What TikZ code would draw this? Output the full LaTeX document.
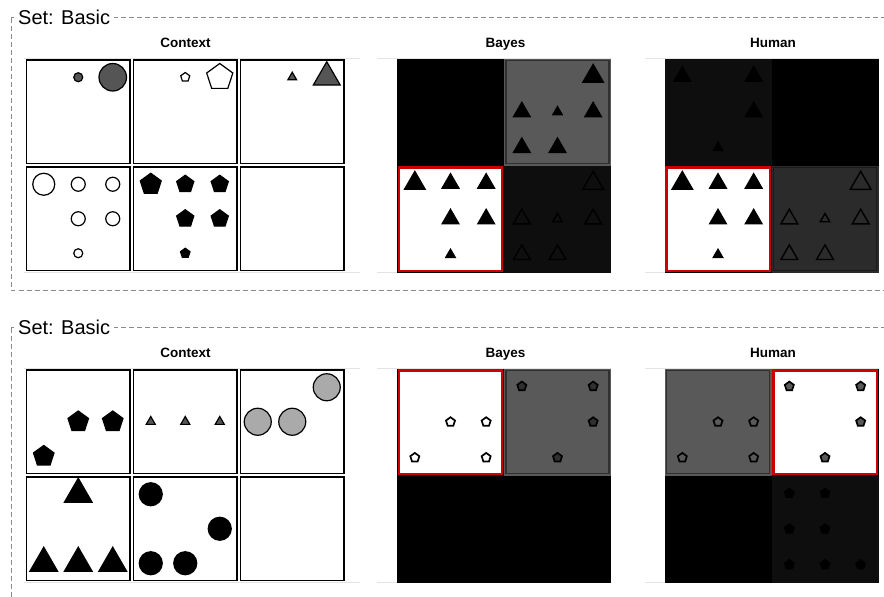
\documentclass[tikz,border=0pt]{standalone}
\usepackage{fontspec}
\setmainfont{Liberation Sans}
\usetikzlibrary{shapes.geometric}
\definecolor{Frame}{HTML}{8A8A8A}
\definecolor{Faint}{HTML}{E4E4E4}
\definecolor{MidGray}{HTML}{555555}
\definecolor{LightGray}{HTML}{AAAAAA}
\definecolor{CellGray}{HTML}{595959}
\definecolor{RimGray}{HTML}{303030}
\definecolor{CellDark}{HTML}{0E0E0E}
\definecolor{CellMid}{HTML}{2B2B2B}
\definecolor{RimMid}{HTML}{1A1A1A}
\definecolor{Pick}{HTML}{CC0000}

\tikzset{
  frame/.style={draw=Frame, line width=0.9pt, dash pattern=on 5pt off 3pt},
  settitle/.style={anchor=base west, fill=white, inner xsep=4pt, inner ysep=1pt,
    font=\fontsize{20}{24}\selectfont},
  colhead/.style={anchor=base, font=\bfseries\fontsize{13.5}{16}\selectfont},
  panel/.style={draw=black, line width=1.4pt},
  faint/.style={draw=Faint, line width=0.8pt},
  tri/.style={regular polygon, regular polygon sides=3, inner sep=0pt},
  pent/.style={regular polygon, regular polygon sides=5, inner sep=0pt},
  dot/.style={circle, inner sep=0pt},
  filled/.style={draw=black, line width=1.2pt, fill=#1},
  hollow/.style={draw=#1, line width=1.4pt, fill=none},
  cellrim/.style={draw=#1, line width=1.3pt},
  picked/.style={draw=Pick, line width=2.2pt},
}

% marks in a cell: name, left, top, cell size, look, list of col/row/size (col, row in sixths)
\newcommand{\putmarks}[6]{%
  \foreach \c/\r/\s in {#6}
    \node[#5, minimum size=\s] (#1-\c\r) at ({#2+#4*\c/6},{#3+#4*\r/6}) {};%
}
% one cell of a result grid: left, top, fill, rim colour
\newcommand{\gridcell}[4]{%
  \fill[#3] (#1,#2) rectangle ++(107,107);
  \draw[cellrim=#4] (#1+2,#2+2) rectangle ++(103,103);%
}
% the picked cell of a result grid
\newcommand{\pickcell}[2]{%
  \fill[white] (#1,#2) rectangle ++(107,107);
  \draw[black, line width=0.8pt] (#1+0.4,#2+0.4) rectangle ++(106.2,106.2);
  \draw[picked] (#1+1.9,#2+1.9) rectangle ++(103.2,103.2);%
}
% frame, headings and the empty context panels of one set
\newcommand{\setframe}[1]{%
  \draw[frame] (11,17.5) rectangle (900,290);
  \node[settitle] (#1-title) at (14,24) {Set: Basic};
  \node[colhead] (#1-context) at (185.5,47.5) {Context};
  \node[colhead] (#1-bayes) at (505.5,47.5) {Bayes};
  \node[colhead] (#1-human) at (773,47.5) {Human};
  \foreach \lx/\rx in {24/360, 377/611, 644.5/878.5}{
    \draw[faint] (\lx,58) -- (\rx,58);
    \draw[faint] (\lx,272.5) -- (\rx,272.5);
  }
  \foreach \c in {0,1,2}
    \foreach \r in {0,1}
      \draw[panel] (26.5+107*\c,60+107*\r) rectangle ++(103.5,103.5);%
}

\begin{document}
\begin{tikzpicture}[x=1pt, y=-1pt]
  \clip (0,0) rectangle (884,597);
  \fill[white] (0,0) rectangle (884,597);

  % first set
  \begin{scope}
    \setframe{a}
    \putmarks{a-c1}{26.5}{60}{103.5}{dot, filled=MidGray}{3/1/9, 5/1/27.5}
    \putmarks{a-c2}{133.5}{60}{103.5}{pent, filled=white}{3/1/9.5, 5/1/27.5}
    \putmarks{a-c3}{240.5}{60}{103.5}{tri, filled=MidGray}{3/1/10, 5/1/31}
    \putmarks{a-c4}{26.5}{167}{103.5}{dot, filled=white}{1/1/22, 3/1/14, 5/1/14, 3/3/14, 5/3/14, 3/5/9}
    \putmarks{a-c5}{133.5}{167}{103.5}{pent, filled=black}{1/1/22, 3/1/18, 5/1/18, 3/3/18, 5/3/18, 3/5/10}
    % Bayes
    \gridcell{397}{58.5}{black}{black}
    \gridcell{504}{58.5}{CellGray}{RimGray}
    \pickcell{397}{165.5}
    \gridcell{504}{165.5}{CellDark}{CellDark}
    \putmarks{a-b2}{504}{58.5}{107}{tri, filled=black}{5/1/24, 1/3/19.5, 3/3/11, 5/3/19.5, 1/5/19.5, 3/5/19.5}
    \putmarks{a-b3}{397}{165.5}{107}{tri, filled=black}{1/1/24, 3/1/19.5, 5/1/19.5, 3/3/19.5, 5/3/19.5, 3/5/11}
    \putmarks{a-b4}{504}{165.5}{107}{tri, hollow=black}{5/1/24, 1/3/19.5, 3/3/11, 5/3/19.5, 1/5/19.5, 3/5/19.5}
    % Human
    \gridcell{664.5}{58.5}{CellDark}{CellDark}
    \gridcell{771.5}{58.5}{black}{black}
    \pickcell{664.5}{165.5}
    \gridcell{771.5}{165.5}{CellMid}{RimMid}
    \putmarks{a-h1}{664.5}{58.5}{107}{tri, filled=black}{1/1/19.5, 5/1/19.5, 5/3/19.5, 3/5/11}
    \putmarks{a-h3}{664.5}{165.5}{107}{tri, filled=black}{1/1/24, 3/1/19.5, 5/1/19.5, 3/3/19.5, 5/3/19.5, 3/5/11}
    \putmarks{a-h4}{771.5}{165.5}{107}{tri, hollow=black}{5/1/24, 1/3/19.5, 3/3/11, 5/3/19.5, 1/5/19.5, 3/5/19.5}
  \end{scope}

  % second set
  \begin{scope}[shift={(0,310)}]
    \setframe{b}
    \putmarks{b-c1}{26.5}{60}{103.5}{pent, filled=black}{3/3/21.5, 5/3/21.5, 1/5/21.5}
    \putmarks{b-c2}{133.5}{60}{103.5}{tri, filled=MidGray}{1/3/10.5, 3/3/10.5, 5/3/10.5}
    \putmarks{b-c3}{240.5}{60}{103.5}{dot, filled=LightGray}{5/1/27, 1/3/27, 3/3/27}
    \putmarks{b-c4}{26.5}{167}{103.5}{tri, filled=black}{3/1/32, 1/5/32, 3/5/32, 5/5/32}
    \putmarks{b-c5}{133.5}{167}{103.5}{dot, filled=black}{1/1/23, 5/3/23, 1/5/23, 3/5/23}
    % Bayes
    \pickcell{397}{58.5}
    \gridcell{504}{58.5}{CellGray}{RimGray}
    \gridcell{397}{165.5}{black}{black}
    \gridcell{504}{165.5}{black}{black}
    \putmarks{b-b1}{397}{58.5}{107}{pent, filled=white, line width=1.7pt}{3/3/9.5, 5/3/9.5, 1/5/9.5, 5/5/9.5}
    \putmarks{b-b2}{504}{58.5}{107}{pent, filled=RimGray, line width=1.7pt}{1/1/9.5, 5/1/9.5, 5/3/9.5, 3/5/9.5}
    % Human
    \gridcell{664.5}{58.5}{CellGray}{RimGray}
    \pickcell{771.5}{58.5}
    \gridcell{664.5}{165.5}{black}{black}
    \gridcell{771.5}{165.5}{CellDark}{CellDark}
    \putmarks{b-h1}{664.5}{58.5}{107}{pent, filled=CellGray, line width=1.7pt}{3/3/9.5, 5/3/9.5, 1/5/9.5, 5/5/9.5}
    \putmarks{b-h2}{771.5}{58.5}{107}{pent, filled=CellGray, line width=1.7pt}{1/1/9.5, 5/1/9.5, 5/3/9.5, 3/5/9.5}
    \putmarks{b-h4}{771.5}{165.5}{107}{pent, filled=black}{1/1/10, 3/1/10, 1/3/10, 3/3/10, 1/5/10, 3/5/10, 5/5/10}
  \end{scope}
\end{tikzpicture}
\end{document}
